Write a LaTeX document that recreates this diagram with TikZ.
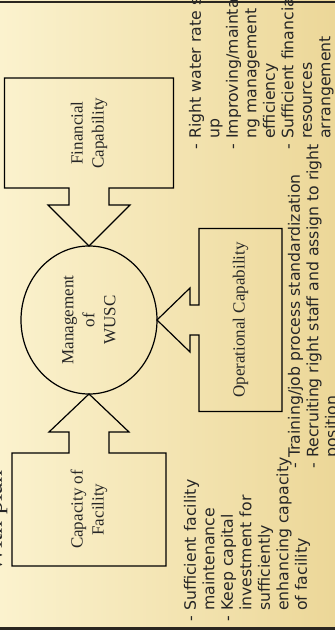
\documentclass[tikz,border=0pt]{standalone}
\usepackage{fontspec}
\setmainfont{Liberation Serif}
\newfontfamily\listfont{DejaVu Sans}
\usepackage{tikz}
\usetikzlibrary{shapes,positioning,calc}

\definecolor{paper}{RGB}{251,242,206}
\definecolor{gold}{RGB}{236,215,152}
\definecolor{rule}{RGB}{42,38,32}

\tikzset{
  every picture/.style = {
    line width = 1.2pt,
    x = 1pt,
    y = 1pt,
  }
  ,
  block/.style = {
    rectangle,
    font = \fontsize{17}{21}\selectfont,
    text = black!85,
    align = center,
    inner sep = 0pt,
    outer sep = 0pt
  }
  ,
  hub/.style = {
    ellipse,
    draw,
    font = \fontsize{17}{21}\selectfont,
    text = black!85,
    align = center,
    minimum width = 148pt,
    minimum height = 136pt,
    inner sep = 0pt,
    outer sep = 0pt
  }
  , % bullet lists
  notes/.style = {
    font = \listfont\fontsize{15.7}{18.5}\selectfont,
    text = black!85,
    inner sep = 0pt,
    anchor = base west
  }
  ,
  title/.style = {
    font = \fontsize{26}{30}\selectfont,
    text = black!85,
    inner sep = 0pt,
    anchor = base west
  }
}

\begin{document}
\begin{tikzpicture}
\path[use as bounding box] (-335,0) rectangle (0,630);
\clip (-335,0) rectangle (0,630);
\shade[left color=paper, right color=gold] (-335,0) rectangle (0,630);
\draw[rule, line width=1.5pt] (-335,628) -- (0,628);
\fill[rule] (-335,0) rectangle (0,3);

% the slide is laid out upright and turned a quarter
\begin{scope}[rotate=90, transform shape]
\node [title] (title) at (57,333) {With plan};

\node [hub] (mgmt) at (310,246) {Management\\of\\WUSC};
\node [block, minimum width=113pt, minimum height=154pt, left=59pt of mgmt] (cap) {Capacity of\\Facility};
\node [block, minimum width=110pt, minimum height=169pt, right=58pt of mgmt] (fin) {Financial\\Capability};
\node [block, minimum width=183pt, minimum height=83pt, below=42pt of mgmt] (oper) {Operational Capability};

% callouts
\draw ($(cap.east)+(0,20)$) -- (cap.north east) -- (cap.north west) -- (cap.south west) -- (cap.south east)
  -- ($(cap.east)+(0,-20)$) -- ($(mgmt.west)+(-38,-20)$) -- ($(mgmt.west)+(-38,-40)$) -- (mgmt.west)
  -- ($(mgmt.west)+(-38,40)$) -- ($(mgmt.west)+(-38,20)$) -- cycle;
\draw ($(fin.west)+(0,20)$) -- (fin.north west) -- (fin.north east) -- (fin.south east) -- (fin.south west)
  -- ($(fin.west)+(0,-20)$) -- ($(mgmt.east)+(41,-20)$) -- ($(mgmt.east)+(41,-41)$) -- (mgmt.east)
  -- ($(mgmt.east)+(41,41)$) -- ($(mgmt.east)+(41,20)$) -- cycle;
\draw ($(oper.north)+(-15,0)$) -- (oper.north west) -- (oper.south west) -- (oper.south east) -- (oper.north east)
  -- ($(oper.north)+(15,0)$) -- ($(mgmt.south)+(15,-33)$) -- ($(mgmt.south)+(32,-33)$) -- (mgmt.south)
  -- ($(mgmt.south)+(-32,-33)$) -- ($(mgmt.south)+(-15,-33)$) -- cycle;

\node [notes] (cap-notes) at (8,139) {\begin{tabular}[t]{@{}l@{ }l@{}}
  -&Sufficient facility\\
   &maintenance\\
  -&Keep capital\\
   &investment for\\
   &sufficiently\\
   &enhancing capacity\\
   &of facility
  \end{tabular}};
\node [notes] (oper-notes) at (161,35) {\begin{tabular}[t]{@{}l@{ }l@{}}
  -&Training/job process standardization\\
  -&Recruiting right staff and assign to right\\
   &position
  \end{tabular}};
\node [notes] (fin-notes) at (480,134) {\begin{tabular}[t]{@{}l@{ }l@{}}
  -&Right water rate s\\
   &up\\
  -&Improving/mainta\\
   &ng management\\
   &efficiency\\
  -&Sufficient financia\\
   &resources\\
   &arrangement
  \end{tabular}};
\end{scope}
\end{tikzpicture}
\end{document}
